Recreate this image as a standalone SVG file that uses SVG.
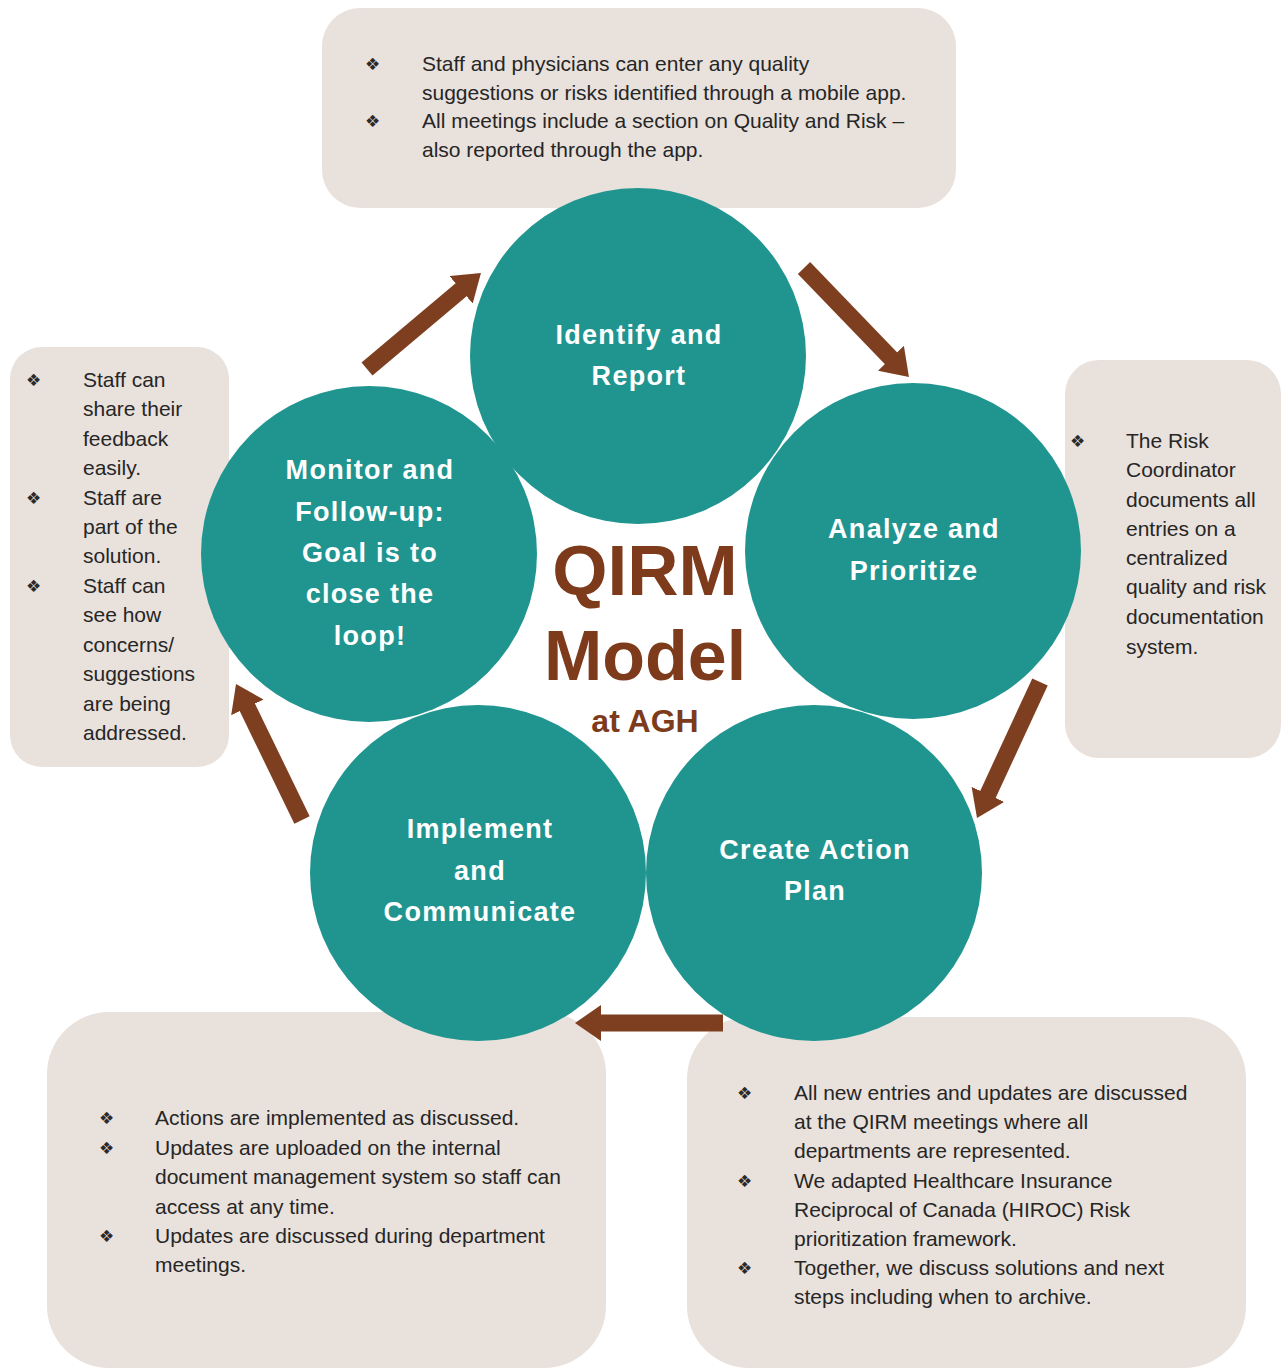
<svg xmlns="http://www.w3.org/2000/svg" width="1282" height="1370" viewBox="0 0 1282 1370">
  <style>
    .box { fill: #e9e1dc; }
    .step { fill: #20958f; }
    .step-label { font-family: "Liberation Sans", Arial, sans-serif; font-weight: bold; font-size: 27px; fill: #ffffff; text-anchor: middle; letter-spacing: 1.3px; }
    .body { font-family: "Liberation Sans", Arial, sans-serif; font-size: 21px; fill: #262626; }
    .bullet { font-family: "DejaVu Sans", sans-serif; font-size: 17px; fill: #2a2a2a; }
    .title { font-family: "Liberation Sans", Arial, sans-serif; font-weight: bold; fill: #7d3b1c; text-anchor: middle; }
    .flow { stroke: #7e3f20; stroke-width: 17; stroke-linecap: butt; fill: none; marker-end: url(#head); }
  </style>
  <defs>
    <marker id="head" markerUnits="userSpaceOnUse" markerWidth="28" markerHeight="36" refX="2" refY="18" orient="auto">
      <path d="M0,0 L26,18 L0,36 Z" fill="#7e3f20"/>
    </marker>
  </defs>
  <rect width="1282" height="1370" fill="#ffffff"/>

  <!-- note boxes -->
  <g id="note-identify">
    <rect class="box" x="322" y="8" width="634" height="200" rx="38"/>
    <text class="bullet" x="365" y="70">❖</text>
    <text class="bullet" x="365" y="127">❖</text>
    <text class="body" x="422" y="71">Staff and physicians can enter any quality</text>
    <text class="body" x="422" y="100">suggestions or risks identified through a mobile app.</text>
    <text class="body" x="422" y="128">All meetings include a section on Quality and Risk –</text>
    <text class="body" x="422" y="157">also reported through the app.</text>
  </g>

  <g id="note-monitor">
    <rect class="box" x="10" y="347" width="219" height="420" rx="32"/>
    <text class="bullet" x="26" y="386">❖</text>
    <text class="bullet" x="26" y="504">❖</text>
    <text class="bullet" x="26" y="592">❖</text>
    <text class="body" x="83" y="387">Staff can</text>
    <text class="body" x="83" y="416">share their</text>
    <text class="body" x="83" y="446">feedback</text>
    <text class="body" x="83" y="475">easily.</text>
    <text class="body" x="83" y="505">Staff are</text>
    <text class="body" x="83" y="534">part of the</text>
    <text class="body" x="83" y="563">solution.</text>
    <text class="body" x="83" y="593">Staff can</text>
    <text class="body" x="83" y="622">see how</text>
    <text class="body" x="83" y="652">concerns/</text>
    <text class="body" x="83" y="681">suggestions</text>
    <text class="body" x="83" y="711">are being</text>
    <text class="body" x="83" y="740">addressed.</text>
  </g>

  <g id="note-analyze">
    <rect class="box" x="1065" y="360" width="216" height="398" rx="34"/>
    <text class="bullet" x="1070" y="447">❖</text>
    <text class="body" x="1126" y="448">The Risk</text>
    <text class="body" x="1126" y="477">Coordinator</text>
    <text class="body" x="1126" y="507">documents all</text>
    <text class="body" x="1126" y="536">entries on a</text>
    <text class="body" x="1126" y="565">centralized</text>
    <text class="body" x="1126" y="594">quality and risk</text>
    <text class="body" x="1126" y="624">documentation</text>
    <text class="body" x="1126" y="654">system.</text>
  </g>

  <g id="note-implement">
    <rect class="box" x="47" y="1012" width="559" height="356" rx="62"/>
    <text class="bullet" x="99" y="1124">❖</text>
    <text class="bullet" x="99" y="1154">❖</text>
    <text class="bullet" x="99" y="1242">❖</text>
    <text class="body" x="155" y="1125">Actions are implemented as discussed.</text>
    <text class="body" x="155" y="1155">Updates are uploaded on the internal</text>
    <text class="body" x="155" y="1184">document management system so staff can</text>
    <text class="body" x="155" y="1214">access at any time.</text>
    <text class="body" x="155" y="1243">Updates are discussed during department</text>
    <text class="body" x="155" y="1272">meetings.</text>
  </g>

  <g id="note-plan">
    <rect class="box" x="687" y="1017" width="559" height="351" rx="62"/>
    <text class="bullet" x="737" y="1099">❖</text>
    <text class="bullet" x="737" y="1187">❖</text>
    <text class="bullet" x="737" y="1274">❖</text>
    <text class="body" x="794" y="1100">All new entries and updates are discussed</text>
    <text class="body" x="794" y="1129">at the QIRM meetings where all</text>
    <text class="body" x="794" y="1158">departments are represented.</text>
    <text class="body" x="794" y="1188">We adapted Healthcare Insurance</text>
    <text class="body" x="794" y="1217">Reciprocal of Canada (HIROC) Risk</text>
    <text class="body" x="794" y="1246">prioritization framework.</text>
    <text class="body" x="794" y="1275">Together, we discuss solutions and next</text>
    <text class="body" x="794" y="1304">steps including when to archive.</text>
  </g>

  <!-- cycle steps -->
  <g id="step-monitor">
    <circle class="step" cx="369" cy="554" r="168"/>
    <text class="step-label" x="370" y="479">Monitor and</text>
    <text class="step-label" x="370" y="521">Follow-up:</text>
    <text class="step-label" x="370" y="562">Goal is to</text>
    <text class="step-label" x="370" y="603">close the</text>
    <text class="step-label" x="370" y="645">loop!</text>
  </g>
  <g id="step-identify">
    <circle class="step" cx="638" cy="356" r="168"/>
    <text class="step-label" x="639" y="344">Identify and</text>
    <text class="step-label" x="639" y="385">Report</text>
  </g>
  <g id="step-analyze">
    <circle class="step" cx="913" cy="551" r="168"/>
    <text class="step-label" x="914" y="538">Analyze and</text>
    <text class="step-label" x="914" y="580">Prioritize</text>
  </g>
  <g id="step-implement">
    <circle class="step" cx="478" cy="873" r="168"/>
    <text class="step-label" x="480" y="838">Implement</text>
    <text class="step-label" x="480" y="880">and</text>
    <text class="step-label" x="480" y="921">Communicate</text>
  </g>
  <g id="step-plan">
    <circle class="step" cx="814" cy="873" r="168"/>
    <text class="step-label" x="815" y="859">Create Action</text>
    <text class="step-label" x="815" y="900">Plan</text>
  </g>

  <!-- centre title -->
  <g id="title">
    <text class="title" x="645" y="595" font-size="71">QIRM</text>
    <text class="title" x="645" y="680" font-size="70">Model</text>
    <text class="title" x="645" y="732" font-size="32">at AGH</text>
  </g>

  <!-- flow arrows -->
  <g id="connectors">
    <line class="flow" x1="367" y1="369" x2="462.6" y2="288.5"/>
    <line class="flow" x1="804" y1="268" x2="892.3" y2="359.7"/>
    <line class="flow" x1="1040" y1="682" x2="987.1" y2="796.2"/>
    <line class="flow" x1="723" y1="1023" x2="599" y2="1023"/>
    <line class="flow" x1="302" y1="820" x2="246.5" y2="705.6"/>
  </g>
</svg>
